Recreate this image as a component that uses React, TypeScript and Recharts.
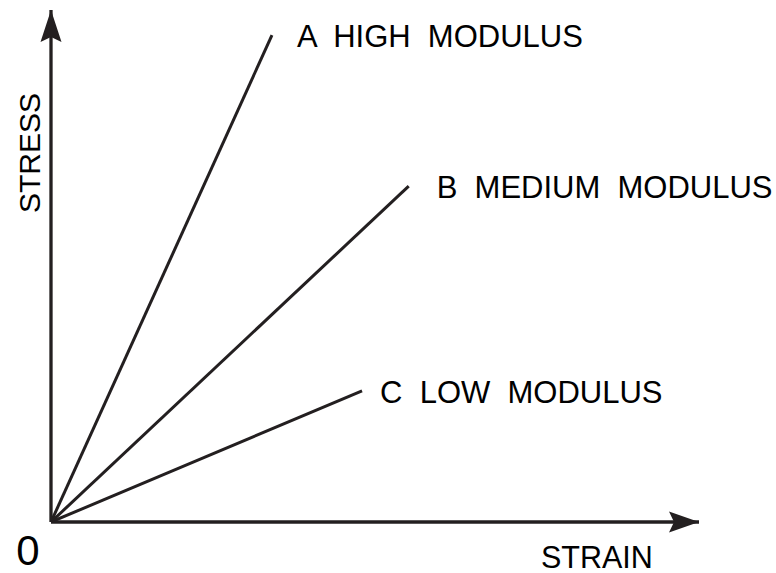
import { LineChart, Line, XAxis, YAxis, ReferenceDot } from "recharts";

// three straight lines from the origin, end points
const curveKeys = ["A", "B", "C"];
const curveLabels = ["A  HIGH  MODULUS", "B  MEDIUM  MODULUS", "C  LOW  MODULUS"];
const endStrain = [34.1, 55.2, 48.0];
const endStress = [95.1, 65.6, 25.6];
const axisMax = 100;
const originTicks = [0];

const INK = "#231f20";
const FONT = "Arial, 'Liberation Sans', sans-serif";

// gap between each line end and its label text
const labelGap: Record<string, number> = { A: 25, B: 28, C: 18 };

const series = curveKeys.map((key, i) => ({
  key,
  label: curveLabels[i],
  data: [
    { strain: 0, stress: 0 },
    { strain: endStrain[i], stress: endStress[i] },
  ],
}));

const ArrowRight = (props: any) => {
  const { cx, cy } = props;
  return (
    <path
      d={`M${cx},${cy} L${cx - 30},${cy - 10.5} L${cx - 25},${cy} L${cx - 30},${cy + 10.5} Z`}
      fill={INK}
    />
  );
};

const ArrowUp = (props: any) => {
  const { cx, cy } = props;
  return (
    <path
      d={`M${cx},${cy} L${cx - 10.5},${cy + 32} L${cx},${cy + 27} L${cx + 10.5},${cy + 32} Z`}
      fill={INK}
    />
  );
};

const NoDot = () => <g />;

const OriginTick = (props: any) => {
  const { x, y, payload } = props;
  return (
    <text x={x - 23} y={y + 35} fontSize={42} fontFamily={FONT} fill="#000" textAnchor="middle">
      {payload.value}
    </text>
  );
};

const StrainLabel = (props: any) => {
  const vb = props.viewBox;
  return (
    <text x={vb.x + 490} y={vb.y + 46} fontSize={30.5} fontFamily={FONT} fill="#000">
      STRAIN
    </text>
  );
};

const StressLabel = (props: any) => {
  const vb = props.viewBox;
  const x = vb.x + vb.width - 11;
  const y = vb.y + 143;
  return (
    <text
      x={x}
      y={y}
      fontSize={30}
      fontFamily={FONT}
      fill="#000"
      textAnchor="middle"
      transform={`rotate(-90, ${x}, ${y})`}
    >
      STRESS
    </text>
  );
};

const CurveLabel = (text: string, gap: number) => (props: any) => {
  const vb = props.viewBox;
  return (
    <text
      x={vb.x + gap}
      y={vb.y + 12}
      fontSize={31}
      fontFamily={FONT}
      fill="#000"
      style={{ whiteSpace: "pre" }}
    >
      {text}
    </text>
  );
};

export default function App() {
  return (
    <div style={{ position: "absolute", left: 0, top: 0, background: "#fff" }}>
      <LineChart
        width={776}
        height={573}
        margin={{ top: 10, right: 77, bottom: 0, left: 0 }}
      >
        <XAxis
          type="number"
          dataKey="strain"
          domain={[0, axisMax]}
          ticks={originTicks}
          height={51}
          axisLine={{ stroke: INK, strokeWidth: 3.3 }}
          tickLine={false}
          tick={<OriginTick />}
          label={<StrainLabel />}
          allowDataOverflow
        />
        <YAxis
          type="number"
          dataKey="stress"
          domain={[0, axisMax]}
          width={51}
          axisLine={{ stroke: INK, strokeWidth: 3.3 }}
          tickLine={false}
          tick={false}
          label={<StressLabel />}
          allowDataOverflow
        />
        {series.map((s) => (
          <Line
            key={s.key}
            data={s.data}
            dataKey="stress"
            type="linear"
            stroke={INK}
            strokeWidth={3}
            dot={false}
            activeDot={false}
            isAnimationActive={false}
          />
        ))}
        {series.map((s) => (
          <ReferenceDot
            key={`lbl-${s.key}`}
            x={s.data[1].strain}
            y={s.data[1].stress}
            r={0}
            shape={<NoDot />}
            label={CurveLabel(s.label, labelGap[s.key])}
          />
        ))}
        <ReferenceDot x={axisMax} y={0} r={0} shape={<ArrowRight />} ifOverflow="visible" />
        <ReferenceDot x={0} y={axisMax} r={0} shape={<ArrowUp />} ifOverflow="visible" />
      </LineChart>
    </div>
  );
}
